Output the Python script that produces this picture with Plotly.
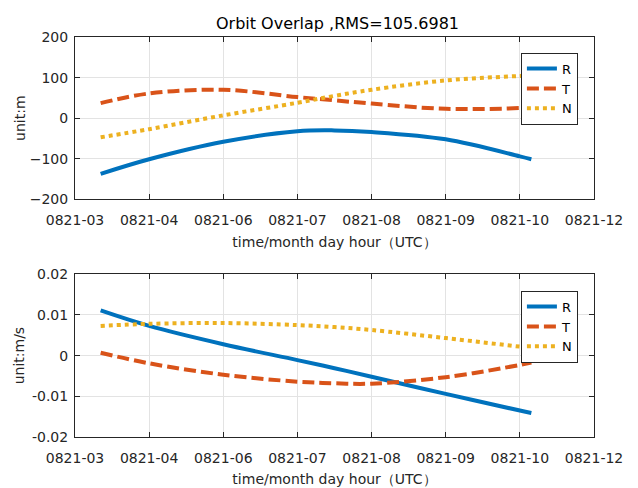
import plotly.graph_objects as go
from plotly.subplots import make_subplots

# x positions (tick index units) at which values were read
x_pts = [0.346, 1.0, 2.0, 3.0, 3.5, 4.0, 5.0, 6.0, 6.155]
tick_vals = [0, 1, 2, 3, 4, 5, 6, 7]
tick_text = ["0821-03", "0821-04", "0821-06", "0821-07", "0821-08", "0821-09", "0821-10", "0821-12"]

# position errors (m)
pos_R = [-137, -101, -58, -32, -30, -34, -52, -94, -101]
pos_T = [37, 61, 70, 52, 44, 36, 23, 25, 27]
pos_N = [-47, -27, 7, 38, 55, 70, 93, 104, 105]

# velocity errors (m/s)
vel_R = [0.0111, 0.0073, 0.0028, -0.0011, -0.0031, -0.0052, -0.0094, -0.0135, -0.0141]
vel_T = [0.0007, -0.0019, -0.0047, -0.0064, -0.0068, -0.0069, -0.0053, -0.0023, -0.0017]
vel_N = [0.0073, 0.0078, 0.0080, 0.0075, 0.0070, 0.0063, 0.0043, 0.0022, 0.0019]

names = ["R", "T", "N"]
colors = ["#0072BD", "#D95319", "#EDB120"]
dashes = ["solid", "12px,5px", "4px,4px"]

FONT = "DejaVu Sans, sans-serif"
TXT = "#262626"

fig = make_subplots(rows=2, cols=1, vertical_spacing=0.187)

for i, ys in enumerate([pos_R, pos_T, pos_N]):
    fig.add_trace(go.Scatter(x=x_pts, y=ys, mode="lines", name=names[i],
                             line=dict(color=colors[i], width=4, dash=dashes[i], shape="spline"),
                             legend="legend"), row=1, col=1)
for i, ys in enumerate([vel_R, vel_T, vel_N]):
    fig.add_trace(go.Scatter(x=x_pts, y=ys, mode="lines", name=names[i],
                             line=dict(color=colors[i], width=4, dash=dashes[i], shape="spline"),
                             legend="legend2"), row=2, col=1)

axis_common = dict(showline=True, linecolor=TXT, linewidth=1, mirror="ticks",
                   ticks="inside", ticklen=5, tickcolor=TXT, showgrid=True,
                   gridcolor="#e3e3e3", gridwidth=1, zeroline=False, automargin=False,
                   tickfont=dict(family=FONT, size=14, color=TXT))

for r in (1, 2):
    fig.update_xaxes(range=[0, 7], tickvals=tick_vals, ticktext=tick_text,
                     ticklabelstandoff=8,
                     title=dict(text="time/month day hour（UTC）", standoff=9,
                                font=dict(family=FONT, size=14, color=TXT)),
                     row=r, col=1, **axis_common)

fig.update_yaxes(range=[-200, 200], tickvals=[-200, -100, 0, 100, 200],
                 ticklabelstandoff=3,
                 title=dict(text="unit:m", standoff=0, font=dict(family=FONT, size=14, color=TXT)),
                 row=1, col=1, **axis_common)
fig.update_yaxes(range=[-0.02, 0.02], tickvals=[-0.02, -0.01, 0, 0.01, 0.02],
                 ticktext=["-0.02", "-0.01", "0", "0.01", "0.02"],
                 ticklabelstandoff=3,
                 title=dict(text="unit:m/s", standoff=4, font=dict(family=FONT, size=14, color=TXT)),
                 row=2, col=1, **axis_common)

leg_common = dict(bgcolor="white", bordercolor=TXT, borderwidth=1,
                  font=dict(family=FONT, size=13, color="black"),
                  xanchor="right", yanchor="top", tracegroupgap=0, itemwidth=30)

fig.update_layout(
    width=638, height=488,
    margin=dict(l=75, r=44, t=37, b=51),
    paper_bgcolor="white", plot_bgcolor="white",
    title=dict(text="Orbit Overlap ,RMS=105.6981", x=0.529, xanchor="center",
               y=0.952, yanchor="middle",
               font=dict(family=FONT, size=16, color="black")),
    legend=dict(x=0.969, y=0.961, **leg_common),
    legend2=dict(x=0.969, y=0.366, **leg_common),
)
fig.layout.yaxis.domain = [0.594, 1.0]
fig.layout.yaxis2.domain = [0.0, 0.407]

fig.write_html("out.html")
